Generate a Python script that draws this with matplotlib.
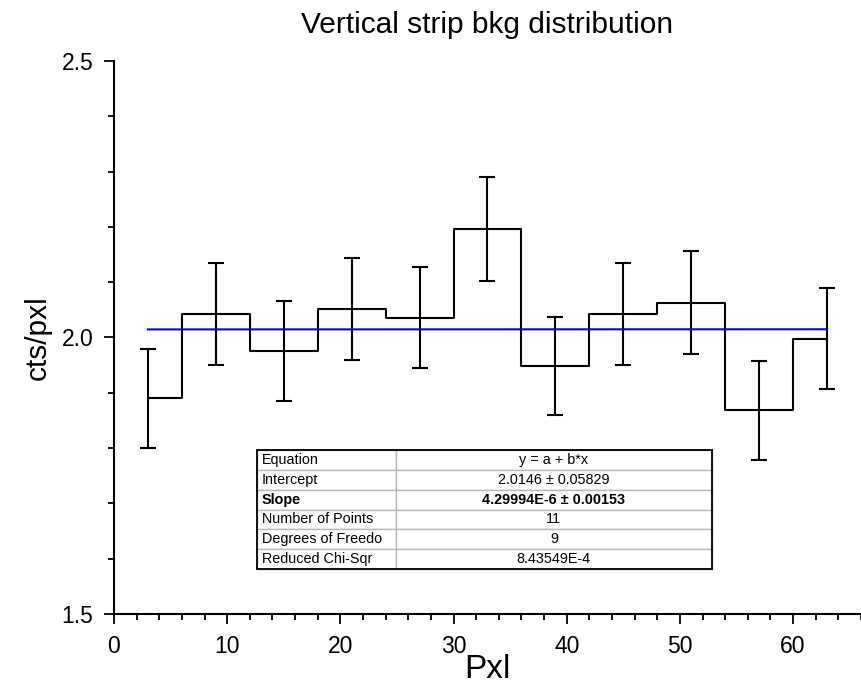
import numpy as np
import matplotlib
matplotlib.use("Agg")
from matplotlib import pyplot as plt
from matplotlib.ticker import MultipleLocator
from matplotlib.patches import Rectangle

plt.rcParams['font.family'] = ['Liberation Sans', 'DejaVu Sans']

# Background counts per pixel in each vertical strip
pxl = [3, 9, 15, 21, 27, 33, 39, 45, 51, 57, 63]
cts = [1.890, 2.043, 1.976, 2.052, 2.036, 2.197, 1.948, 2.043, 2.063, 1.868, 1.998]
err = [0.089, 0.092, 0.090, 0.092, 0.092, 0.094, 0.089, 0.092, 0.093, 0.089, 0.091]

# Linear fit results
intercept = 2.0146
slope = 4.29994e-6
fit_rows = [
    ("Equation", "y = a + b*x"),
    ("Intercept", "2.0146 \u00b1 0.05829"),
    ("Slope", "4.29994E-6 \u00b1 0.00153"),
    ("Number of Points", "11"),
    ("Degrees of Freedo", "9"),
    ("Reduced Chi-Sqr", "8.43549E-4"),
]

fig = plt.figure(figsize=(8.61, 6.94), dpi=100)
ax = fig.add_axes([0.1324, 0.1153, 0.8676, 0.7968])

x = np.array(pxl)
y = np.array(cts)
ax.plot(x, y, drawstyle='steps-mid', color='black', lw=1.5)
ax.errorbar(x, y, yerr=err, fmt='none', ecolor='black', elinewidth=1.5,
            capsize=6, capthick=1.5)
ax.plot(x, intercept + slope * x, color='#0000ee', lw=1.5)

ax.set_xlim(0, 66)
ax.set_ylim(1.5, 2.5)
ax.xaxis.set_major_locator(MultipleLocator(10))
ax.xaxis.set_minor_locator(MultipleLocator(2))
ax.yaxis.set_major_locator(MultipleLocator(0.5))
ax.yaxis.set_minor_locator(MultipleLocator(0.1))
ax.tick_params(which='both', direction='out', width=1.3, labelsize=16.5, pad=8)
ax.tick_params(which='major', length=7)
ax.tick_params(which='minor', length=4)
for side in ('top', 'right'):
    ax.spines[side].set_visible(False)
for side in ('left', 'bottom'):
    ax.spines[side].set_linewidth(1.5)

ax.set_title("Vertical strip bkg distribution", fontsize=21.5, pad=20)
ax.set_xlabel("Pxl", fontsize=24, labelpad=-3)
ax.set_ylabel("cts/pxl", fontsize=21.5, labelpad=7)

# Fit parameter table
tbl = ax.table(cellText=[list(r) for r in fit_rows], colWidths=[0.3055, 0.6945],
               bbox=[0.1914, 0.0814, 0.609, 0.215])
tbl.auto_set_font_size(False)
for (r, c), cell in tbl.get_celld().items():
    cell.set_edgecolor('#b8b8b8')
    cell.set_linewidth(1.0)
    cell.set_fontsize(10.4)
    txt = cell.get_text()
    if c == 0:
        cell.set_text_props(ha='left')
        cell.PAD = 0.035
    else:
        cell.set_text_props(ha='center')
    if r == 2:
        txt.set_fontweight('bold')
ax.add_patch(Rectangle((0.1914, 0.0814), 0.609, 0.215, transform=ax.transAxes,
                       fill=False, edgecolor='black', lw=1.3, zorder=10))

fig.savefig("out.png", dpi=100)
